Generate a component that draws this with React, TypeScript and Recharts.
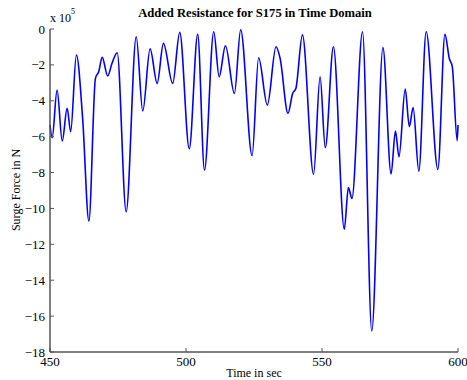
import React from 'react';
import { LineChart, Line, XAxis, YAxis } from 'recharts';

// time in seconds
const TIME = [
  450.0, 450.8, 452.6, 454.5, 456.3, 457.6, 459.7, 462.0, 464.3, 466.7, 467.9, 469.2, 471.2,
  472.8, 474.7, 478.0, 481.7, 484.1, 486.8, 489.4, 491.7, 495.1, 497.7, 501.2, 504.3, 506.8,
  510.2, 512.2, 514.5, 517.8, 520.1, 524.3, 526.7, 529.9, 533.1, 534.6, 537.5, 539.2, 540.4,
  542.8, 546.9, 549.3, 551.2, 554.2, 558.2, 559.7, 561.0, 564.9, 568.3, 572.4, 575.4, 577.0,
  578.3, 580.6, 582.1, 583.5, 585.6, 588.3, 592.6, 595.2, 596.8, 597.9, 599.7, 600.0,
];

// surge force, units of 1e5 N
const FORCE = [
  -5.35, -6.06, -3.4, -6.24, -4.42, -5.72, -1.45, -4.98, -10.7, -2.75, -2.38, -1.58, -2.62,
  -1.91, -1.32, -10.18, -0.43, -4.57, -1.11, -3.03, -0.8, -3.03, -0.19, -6.67, -0.3, -7.86,
  -0.15, -2.66, -0.93, -3.59, -0.04, -7.06, -1.6, -4.24, -0.99, -1.64, -4.7, -3.59, -3.31,
  -0.33, -8.1, -2.66, -6.61, -0.99, -11.15, -8.84, -9.44, -0.15, -16.83, -1.04, -8.08, -5.69,
  -7.12, -3.34, -5.44, -4.38, -7.92, -0.15, -7.82, -0.3, -1.64, -2.1, -6.22, -5.35,
];

const X_TICKS = [450, 500, 550, 600];
const Y_TICKS = [0, -2, -4, -6, -8, -10, -12, -14, -16, -18];

const data = TIME.map((t, i) => ({ t, f: FORCE[i] }));

const FONT = '"Liberation Serif", "Times New Roman", serif';
const AXIS = '#555';

const fmt = (v: number) => (v < 0 ? '\u2212' + Math.abs(v) : String(v));

function YTick(props: any) {
  const { x, y, payload } = props;
  return (
    <g>
      <line x1={x + 5} x2={x + 9} y1={y} y2={y} stroke={AXIS} strokeWidth={1} />
      <text x={x} y={y} dy="0.35em" textAnchor="end" fontSize={13} fontFamily={FONT} fill="#000">
        {fmt(payload.value)}
      </text>
    </g>
  );
}

function XTick(props: any) {
  const { x, y, payload } = props;
  return (
    <g>
      <line x1={x} x2={x} y1={y - 5} y2={y - 9} stroke={AXIS} strokeWidth={1} />
      <text x={x} y={y} dy="0.71em" textAnchor="middle" fontSize={13} fontFamily={FONT} fill="#000">
        {payload.value}
      </text>
    </g>
  );
}

export default function App() {
  return (
    <div style={{ position: 'absolute', left: 0, top: 0, width: 467, height: 380, background: '#fff' }}>
      <div
        style={{
          position: 'absolute',
          left: 0,
          width: 510,
          top: 6,
          textAlign: 'center',
          fontFamily: FONT,
          fontWeight: 'bold',
          fontSize: 12.6,
          whiteSpace: 'nowrap',
        }}
      >
        Added Resistance for S175 in Time Domain
      </div>
      <div style={{ position: 'absolute', left: 50, top: 11, fontFamily: FONT, fontSize: 12 }}>
        x 10<sup style={{ fontSize: 8, verticalAlign: 'top', position: 'relative', top: -4 }}>5</sup>
      </div>
      <div
        style={{
          position: 'absolute',
          left: 16,
          top: 190,
          transform: 'translate(-50%, -50%) rotate(-90deg)',
          fontFamily: FONT,
          fontSize: 12,
          whiteSpace: 'nowrap',
        }}
      >
        Surge Force in N
      </div>
      <LineChart width={467} height={380} data={data} margin={{ top: 29, right: 9, bottom: 0, left: 0 }}>
        <XAxis
          dataKey="t"
          type="number"
          domain={[450, 600]}
          ticks={X_TICKS}
          height={28}
          tickSize={0}
          tickMargin={5}
          tickLine={false}
          axisLine={{ stroke: AXIS, strokeWidth: 1.5 }}
          tick={<XTick />}
          interval={0}
          label={{ value: 'Time in sec', position: 'insideBottom', offset: 3, fontSize: 12, fontFamily: FONT, fill: '#000' }}
        />
        <YAxis
          type="number"
          domain={[-18, 0]}
          ticks={Y_TICKS}
          width={50}
          tickSize={0}
          tickMargin={5}
          tickLine={false}
          axisLine={{ stroke: AXIS, strokeWidth: 1.5 }}
          tick={<YTick />}
          interval={0}
        />
        <Line
          type="monotone"
          dataKey="f"
          stroke="#0000ff"
          strokeWidth={1.6}
          dot={false}
          isAnimationActive={false}
        />
      </LineChart>
    </div>
  );
}
